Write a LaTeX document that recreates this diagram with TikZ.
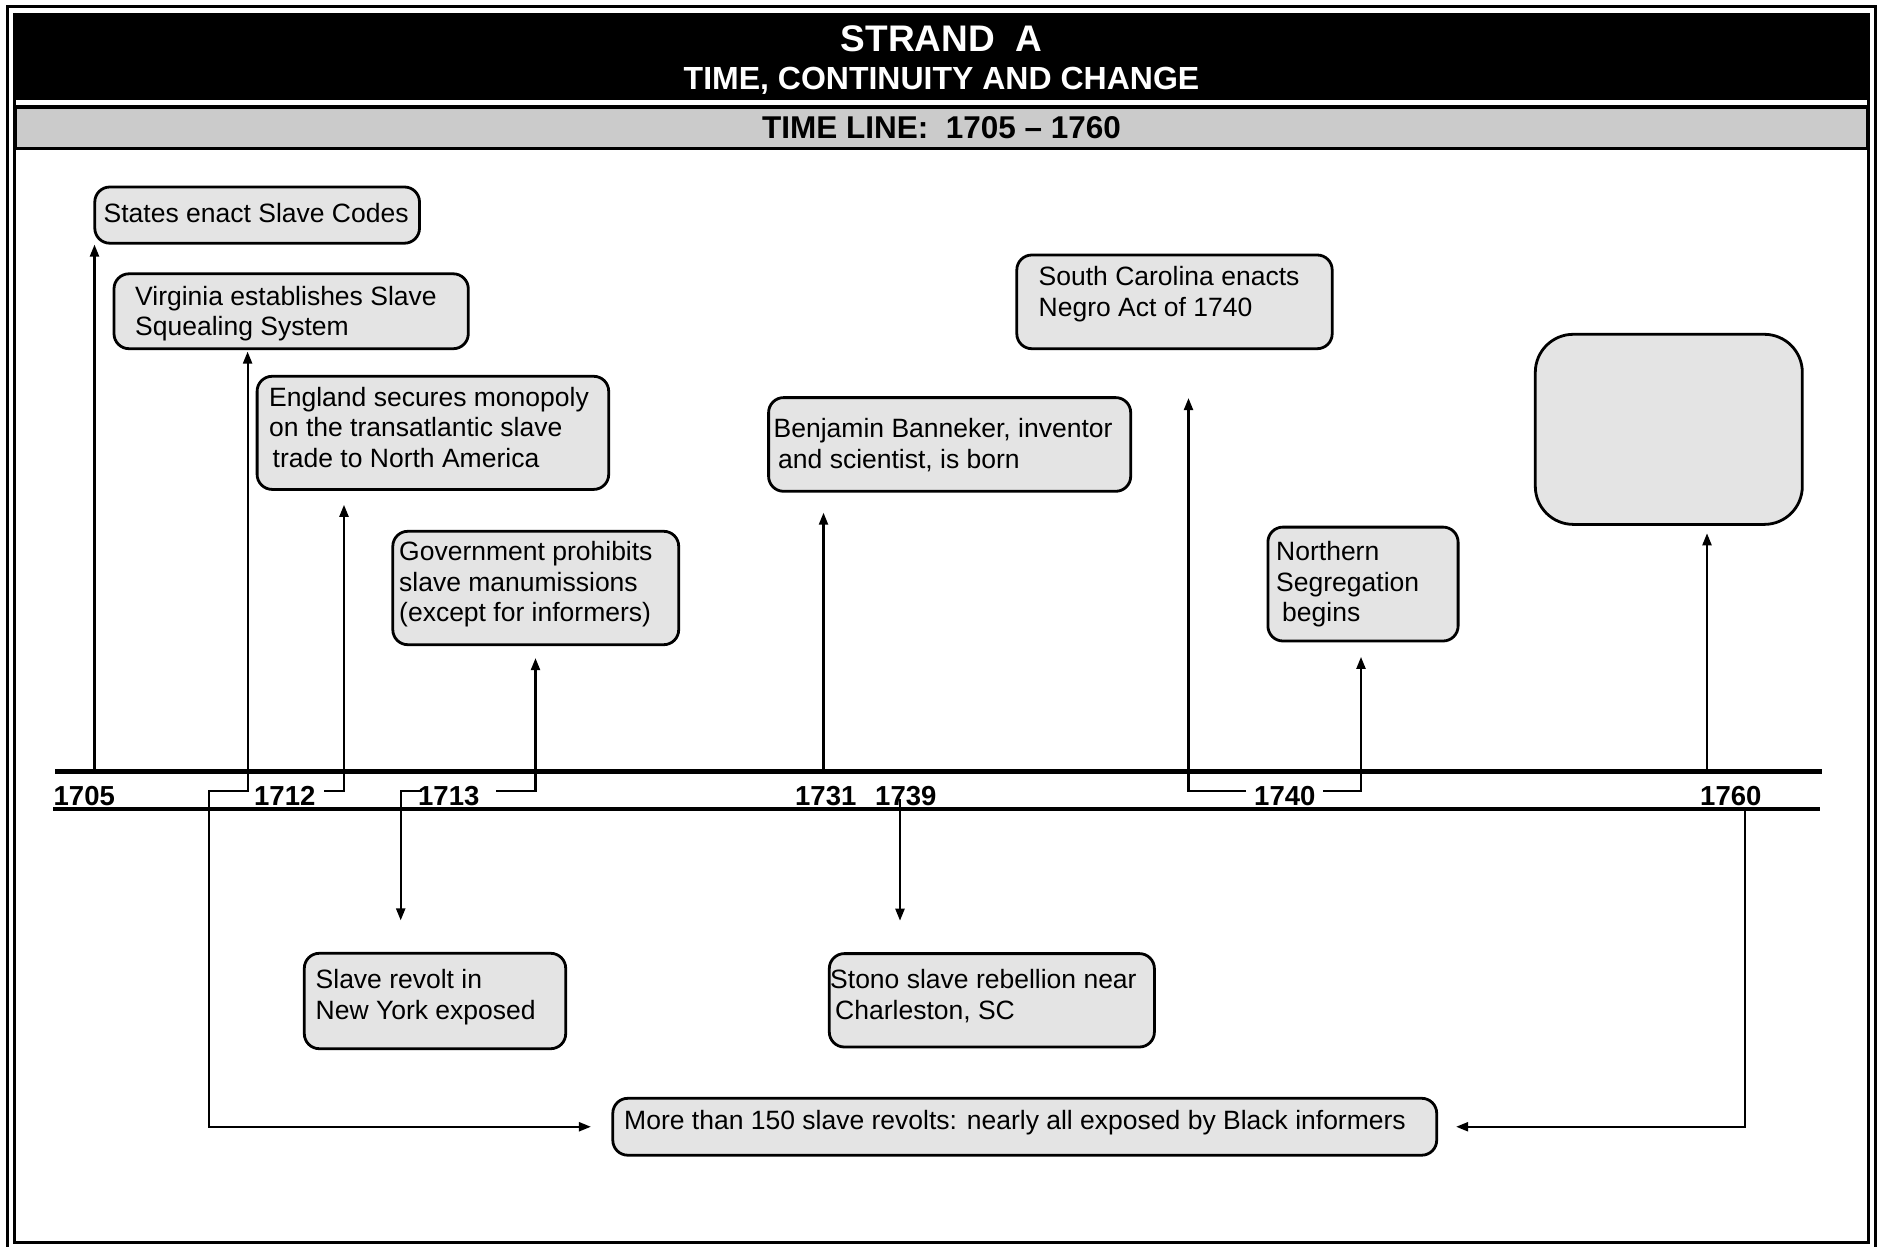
\documentclass[tikz,border=0pt]{standalone}
\usepackage{fontspec}
\setmainfont{Liberation Sans}
\usetikzlibrary{arrows.meta}
\definecolor{bargray}{RGB}{203,203,203}
\definecolor{boxgray}{RGB}{228,228,228}
\newcommand{\boxfont}{\fontsize{26.5}{30.5}\selectfont}
\newcommand{\yearfont}{\fontsize{27.5}{30}\selectfont\bfseries}
\newcommand{\mlines}[1]{\vtop{#1}}
\begin{document}
\begin{tikzpicture}[x=1pt,y=-1pt,
  box/.style={draw=black, line width=2.8pt, fill=boxgray, rounded corners=15pt, inner sep=0pt},
  txt/.style={inner sep=0pt, font=\boxfont, anchor=base west},
  yr/.style={inner sep=0pt, font=\yearfont, anchor=base west},
  conn/.style={line width=2.2pt},
  arr/.style={conn, -{Triangle[length=12pt,width=9pt]}},
  arrboth/.style={conn, {Triangle[length=12pt,width=9pt]}-{Triangle[length=12pt,width=9pt]}},
  tline/.style={line width=5pt}
]
\useasboundingbox (0,0) rectangle (1879,1247);
\clip (0,0) rectangle (1879,1247);
\fill[white] (0,0) rectangle (1879,1247);

% frame
\fill[black] (13,13) rectangle (1870,100);
\draw[line width=3.5pt, fill=bargray] (15,106.75) rectangle (1868,148.25);
\draw[line width=3pt] (14,13) -- (14,1242) -- (1868,1242) -- (1868,13);
\draw[line width=3pt] (7.5,1260) -- (7.5,6.5) -- (1875.5,6.5) -- (1875.5,1260);

% headings
\node[inner sep=0pt, anchor=base, text=white, font=\fontsize{37}{40}\selectfont\bfseries] (title) at (941.5,52) {STRAND\ \ A};
\node[inner sep=0pt, anchor=base, text=white, font=\fontsize{32}{35}\selectfont\bfseries] (subtitle) at (941.5,89.5) {TIME, CONTINUITY AND CHANGE};
\node[inner sep=0pt, anchor=base, font=\fontsize{31.5}{35}\selectfont\bfseries] (tlhead) at (941.5,138.5) {TIME LINE:\ \ 1705 -- 1760};

% timeline bars
\draw[tline] (55,771.5) -- (1822,771.5);
\draw[line width=4.5pt] (53,809) -- (1820,809);

% boxes
\node[box, minimum width=324.7pt, minimum height=56.2pt] (states) at (257.15,215.1) {};
\node[box, minimum width=354.3pt, minimum height=74.9pt] (virginia) at (291.15,311.25) {};
\node[box, minimum width=351.6pt, minimum height=113.1pt] (england) at (432.9,432.85) {};
\node[box, minimum width=285.9pt, minimum height=113.4pt] (gov) at (535.75,588) {};
\node[box, minimum width=362.1pt, minimum height=93.7pt] (benjamin) at (949.65,444.45) {};
\node[box, minimum width=315.4pt, minimum height=93.7pt] (sc) at (1174.5,301.85) {};
\node[box, minimum width=190.2pt, minimum height=113.9pt] (northern) at (1363,584.05) {};
\node[box, rounded corners=38pt, minimum width=267pt, minimum height=190.1pt] (empty) at (1668.8,429.35) {};
\node[box, minimum width=261.4pt, minimum height=95.4pt] (nyrev) at (435,1001) {};
\node[box, minimum width=325.1pt, minimum height=93.4pt] (stono) at (991.85,1000.3) {};
\node[box, minimum width=823.9pt, minimum height=56.9pt] (more) at (1024.75,1126.75) {};

% box texts
\node[txt] (statesT) at (103.5,222) {States enact Slave Codes};
\node[txt] (virginiaT) at (135,305) {\mlines{\hbox{Virginia establishes Slave}\hbox{Squealing System}}};
\node[txt] (englandT) at (269,406) {\mlines{\hbox{England secures monopoly}\hbox{on the transatlantic slave}\hbox{\kern3.5pt trade to North America}}};
\node[txt] (govT) at (399,560.5) {\mlines{\hbox{Government prohibits}\hbox{slave manumissions}\hbox{(except for informers)}}};
\node[txt] (benjaminT) at (773.5,437.5) {\mlines{\hbox{Benjamin Banneker, inventor}\hbox{\kern4.5pt and scientist, is born}}};
\node[txt] (scT) at (1038.5,285.5) {\mlines{\hbox{South Carolina enacts}\hbox{Negro Act of 1740}}};
\node[txt] (northernT) at (1276,560.5) {\mlines{\hbox{Northern}\hbox{Segregation}\hbox{\kern6pt begins}}};
\node[txt] (nyrevT) at (315.5,988.5) {\mlines{\hbox{Slave revolt in}\hbox{New York exposed}}};
\node[txt] (stonoT) at (830,988.5) {\mlines{\hbox{Stono slave rebellion near}\hbox{\kern5pt Charleston, SC}}};
\node[txt] (moreT) at (624,1129) {More than 150 slave revolts: nearly all exposed by Black informers};

% years
\node[yr] (y1705) at (53.5,805) {1705};
\node[yr] (y1712) at (254,805) {1712};
\node[yr] (y1713) at (418,805) {1713};
\node[yr] (y1731) at (795,805) {1731};
\node[yr] (y1739) at (875,805) {1739};
\node[yr] (y1740) at (1254,805) {1740};
\node[yr] (y1760) at (1700,805) {1760};

% connector points
\coordinate (p1705) at (94.5,771.5);
\coordinate (va) at (247.6,791);
\coordinate (vb) at (208.7,791);
\coordinate (ea) at (324,791);
\coordinate (eb) at (344,791);
\coordinate (fa) at (421.7,791);
\coordinate (fb) at (400.7,791);
\coordinate (ga) at (496,791);
\coordinate (gb) at (535.5,791);
\coordinate (p1731) at (823.5,771.5);
\coordinate (p1739) at (900,799);
\coordinate (sa) at (1246,791);
\coordinate (sb) at (1188.5,791);
\coordinate (na) at (1323,791);
\coordinate (nb) at (1361,791);
\coordinate (p1760a) at (1707,771.5);
\coordinate (p1760b) at (1745,809);

% connectors
\draw[arr] (p1705) -- (p1705 |- states.south);
\draw[arrboth, shorten <=1.5pt, shorten >=20.5pt] (va |- virginia.south) -- (va) -- (vb) |- (more.west);
\draw[arr, shorten >=14pt] (ea) -- (eb) -- (eb |- england.south);
\draw[arr, shorten >=31.5pt] (fa) -- (fb) -- (fb |- nyrev.north);
\draw[arr, shorten >=12pt] (ga) -- (gb) -- (gb |- gov.south);
\draw[arr, shorten >=20pt] (p1731) -- (p1731 |- benjamin.south);
\draw[arr, shorten >=31.5pt] (p1739) -- (p1739 |- stono.north);
\draw[arr, shorten >=48pt] (sa) -- (sb) -- (sb |- sc.south);
\draw[arr, shorten >=14.5pt] (na) -- (nb) -- (nb |- northern.south);
\draw[arr, shorten >=7.5pt] (p1760a) -- (p1760a |- empty.south);
\draw[arr, shorten >=18pt] (p1760b) |- (more.east);
\end{tikzpicture}
\end{document}
